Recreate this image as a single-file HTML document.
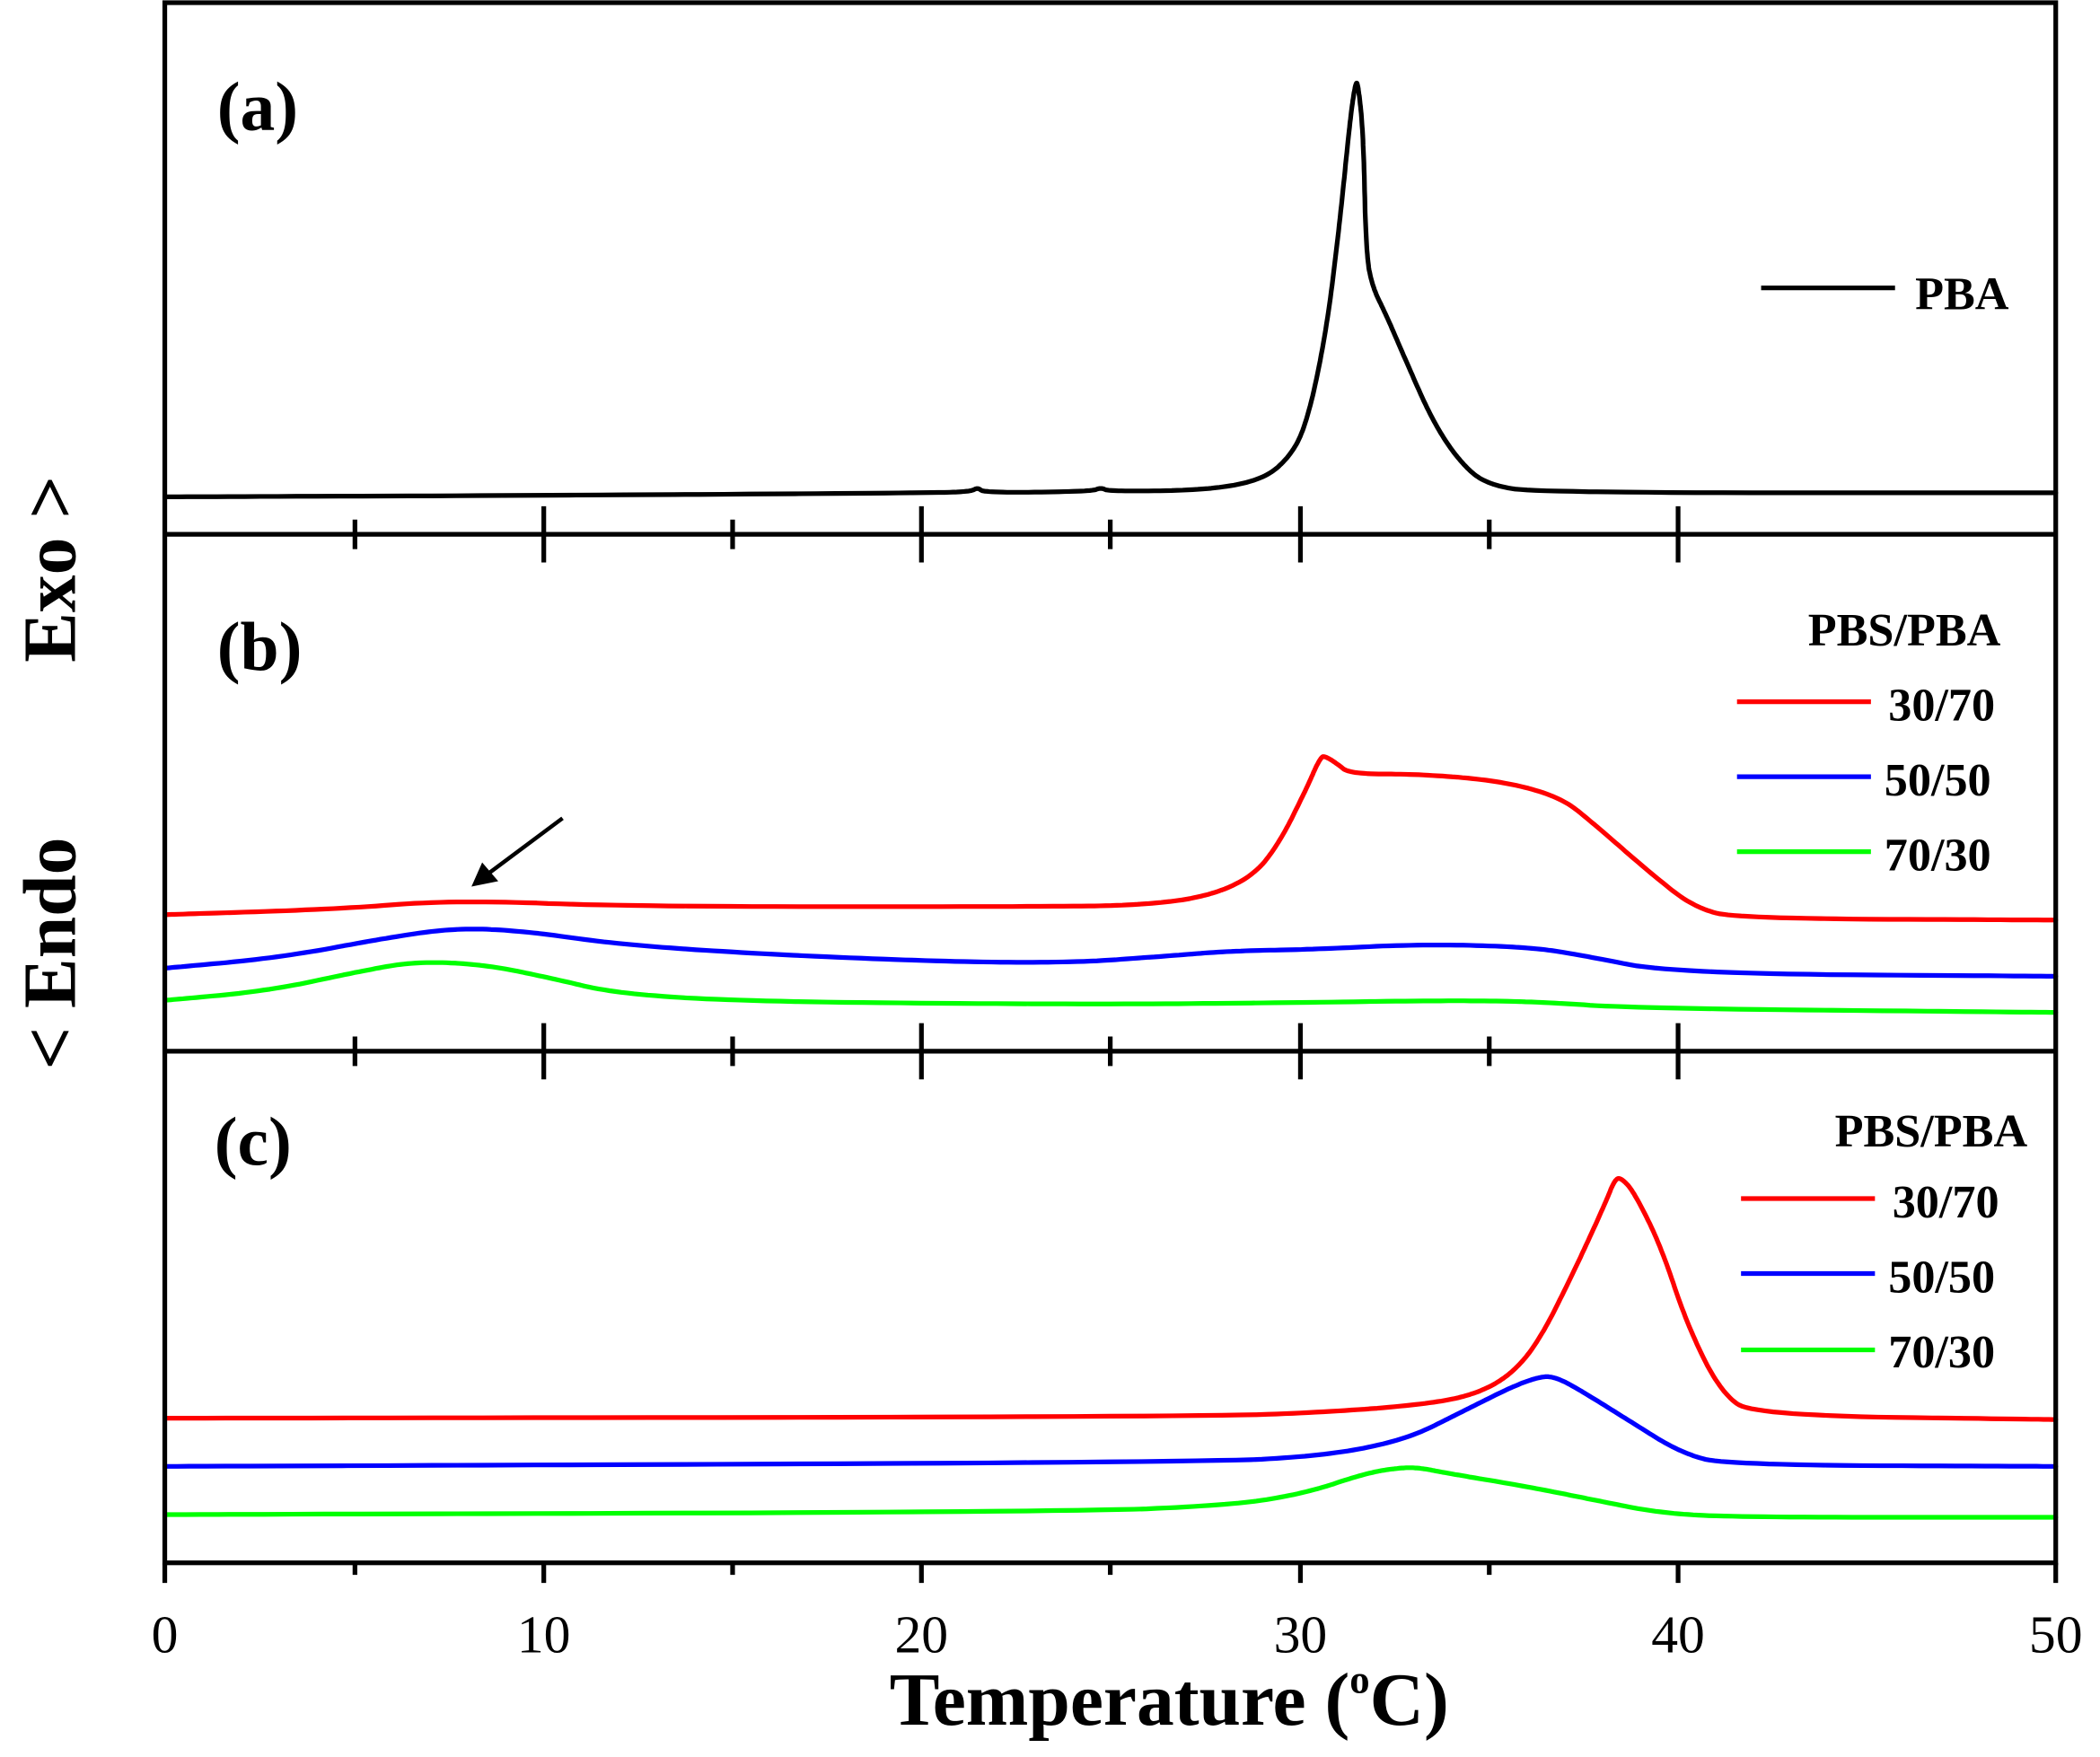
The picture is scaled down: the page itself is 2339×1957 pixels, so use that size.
<!DOCTYPE html>
<html><head><meta charset="utf-8"><style>html,body{margin:0;padding:0;background:#fff}svg{display:block}</style></head>
<body>
<svg id="s" width="2339" height="1957" viewBox="0 0 1568 1312" xmlns="http://www.w3.org/2000/svg" font-family="Liberation Serif, serif">
<rect width="1568" height="1312" fill="#fff"/>
<g id="curves" fill="none" stroke-linejoin="round" stroke-linecap="round">
<polyline stroke="#000" stroke-width="3.5" points="123,371 400,370 700,368 725,367 730,364 735,368 815,367 822,364 828,367 900,366 940,359 960,345 975,320 990,250 1000,170 1008,90 1012,62 1014,62 1018,100 1020,190 1025,215 1035,235 1050,270 1070,315 1090,345 1110,362 1150,368 1535,368"/>
<polyline stroke="#ff0000" stroke-width="3.5" points="123,683 250,679 340,672 470,677 780,677 850,676 900,670 935,655 955,630 975,590 986,565 990,565 998,570 1008,578 1060,578 1120,583 1165,595 1190,615 1230,650 1265,678 1300,686 1535,687"/>
<polyline stroke="#0000ff" stroke-width="3.5" points="123,723 210,715 290,700 340,693 390,695 460,705 560,712 700,718 800,719 870,714 920,710 980,709 1060,705 1140,707 1180,713 1250,727 1535,729"/>
<polyline stroke="#00ff00" stroke-width="3.5" points="123,747 200,740 270,725 310,718 360,720 410,730 460,742 560,748 800,750 950,749 1080,747 1150,748 1220,753 1535,756"/>
<polyline stroke="#ff0000" stroke-width="3.5" points="123,1059 900,1058 1000,1054 1070,1048 1105,1040 1130,1025 1150,1000 1175,950 1198,900 1206,880 1211,880 1220,890 1240,930 1260,990 1285,1040 1310,1057 1535,1060"/>
<polyline stroke="#0000ff" stroke-width="3.5" points="123,1095 900,1092 990,1087 1050,1075 1090,1055 1130,1035 1150,1028 1160,1028 1175,1035 1215,1060 1255,1085 1290,1094 1535,1095"/>
<polyline stroke="#00ff00" stroke-width="3.5" points="123,1131 800,1129 920,1124 975,1115 1020,1100 1045,1096 1060,1096 1080,1100 1140,1110 1190,1120 1240,1130 1300,1133 1535,1133"/>
</g>
<g stroke="#000" stroke-width="3.5" fill="none">
<rect x="123" y="2" width="1412" height="1165"/>
<line x1="123" y1="399" x2="1535" y2="399"/>
<line x1="123" y1="785" x2="1535" y2="785"/>
<path d="M265,388V410 M547,388V410 M829,388V410 M1112,388V410 M406,378V420 M688,378V420 M971,378V420 M1253,378V420
M265,774V796 M547,774V796 M829,774V796 M1112,774V796 M406,764V806 M688,764V806 M971,764V806 M1253,764V806
M123,1167V1182 M265,1167V1176 M547,1167V1176 M829,1167V1176 M1112,1167V1176 M406,1167V1182 M688,1167V1182 M971,1167V1182 M1253,1167V1182 M1535,1167V1182"/>
<line x1="1315" y1="215" x2="1415" y2="215"/>
</g>
<g stroke-width="3.5">
<line x1="1297" y1="524" x2="1397" y2="524" stroke="#ff0000"/>
<line x1="1297" y1="580" x2="1397" y2="580" stroke="#0000ff"/>
<line x1="1297" y1="636" x2="1397" y2="636" stroke="#00ff00"/>
<line x1="1300" y1="895" x2="1400" y2="895" stroke="#ff0000"/>
<line x1="1300" y1="951" x2="1400" y2="951" stroke="#0000ff"/>
<line x1="1300" y1="1008" x2="1400" y2="1008" stroke="#00ff00"/>
</g>
<line x1="420" y1="611" x2="365" y2="652" stroke="#000" stroke-width="3"/>
<polygon points="352,662 360,644 372,658" fill="#000"/>
<g font-weight="bold" fill="#000">
<text x="162" y="97" font-size="52">(a)</text>
<text x="162" y="500" font-size="52">(b)</text>
<text x="160" y="870" font-size="52">(c)</text>
<text x="1430" y="231" font-size="35">PBA</text>
<text x="1350" y="482" font-size="35">PBS/PBA</text>
<text x="1410" y="538" font-size="35">30/70</text>
<text x="1407" y="594" font-size="35">50/50</text>
<text x="1407" y="650" font-size="35">70/30</text>
<text x="1370" y="856" font-size="35">PBS/PBA</text>
<text x="1413" y="909" font-size="35">30/70</text>
<text x="1410" y="965" font-size="35">50/50</text>
<text x="1410" y="1021" font-size="35">70/30</text>
<text transform="translate(56,425) rotate(-90)" text-anchor="middle" font-size="56">Exo &gt;</text>
<text transform="translate(56,712) rotate(-90)" text-anchor="middle" font-size="56">&lt; Endo</text>
<text x="873" y="1288" text-anchor="middle" font-size="56">Temperature (<tspan font-size="30" dy="-24">o</tspan><tspan dy="24">C)</tspan></text>
</g>
<g font-size="40" text-anchor="middle" fill="#000">
<text x="123" y="1234">0</text>
<text x="406" y="1234">10</text>
<text x="688" y="1234">20</text>
<text x="971" y="1234">30</text>
<text x="1253" y="1234">40</text>
<text x="1535" y="1234">50</text>
</g>
</svg>
<script>
document.querySelectorAll('#curves polyline').forEach(function(pl){
  var p=pl.getAttribute('points').trim().split(/\s+/).map(function(s){return s.split(',').map(Number);});
  for(var it=0;it<4;it++){
    var q=[p[0]];
    for(var i=0;i<p.length-1;i++){
      var a=p[i],b=p[i+1];
      q.push([0.75*a[0]+0.25*b[0],0.75*a[1]+0.25*b[1]]);
      q.push([0.25*a[0]+0.75*b[0],0.25*a[1]+0.75*b[1]]);
    }
    q.push(p[p.length-1]);p=q;
  }
  pl.setAttribute('points',p.map(function(v){return v[0].toFixed(1)+','+v[1].toFixed(1);}).join(' '));
});
</script>
</body></html>
